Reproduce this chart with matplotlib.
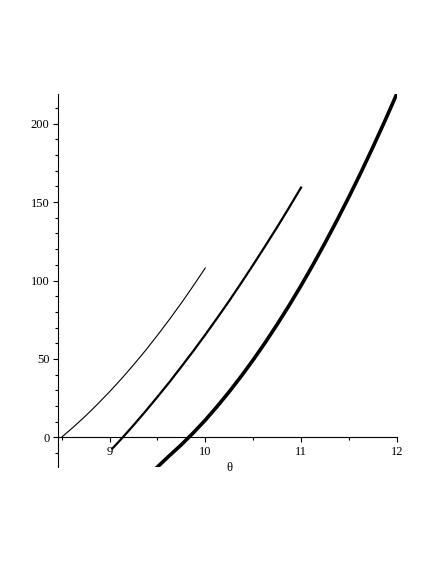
import matplotlib.pyplot as plt
from matplotlib.ticker import MultipleLocator

# curves (theta, value)
theta_a = [8.5, 8.625, 8.75, 8.875, 9.0, 9.125, 9.25, 9.375, 9.5, 9.625, 9.75, 9.875, 10.0]
val_a = [0.0, 6.6, 13.6, 21.1, 29.0, 37.3, 46.1, 55.3, 65.0, 75.1, 85.6, 96.6, 108.0]

theta_b = [9.03, 9.125, 9.25, 9.375, 9.5, 9.625, 9.75, 9.875, 10.0,
           10.125, 10.25, 10.375, 10.5, 10.625, 10.75, 10.875, 11.0]
val_b = [-7.2, -1.0, 7.6, 16.5, 25.7, 35.1, 45.0, 55.0, 65.4,
         76.1, 87.0, 98.4, 110.0, 121.9, 134.0, 146.5, 159.3]

theta_c = [9.5, 9.625, 9.75, 9.875, 10.0, 10.125, 10.25, 10.375, 10.5, 10.625, 10.75,
           10.875, 11.0, 11.125, 11.25, 11.375, 11.5, 11.625, 11.75, 11.875, 12.0]
val_c = [-19.0, -11.8, -4.8, 2.8, 10.9, 19.7, 29.0, 38.9, 49.3, 60.3, 71.9,
         84.0, 96.7, 110.0, 123.9, 138.3, 153.3, 168.8, 185.0, 201.7, 219.0]

plt.rcParams['font.family'] = ['Liberation Serif', 'DejaVu Serif']

fig = plt.figure(figsize=(4.36, 5.64), dpi=100)
ax = fig.add_axes([0.1337, 0.172, 0.910 - 0.1337, 0.8333 - 0.172])

ax.plot(theta_a, val_a, color="black", linewidth=0.8)
ax.plot(theta_b, val_b, color="black", linewidth=1.6)
ax.plot(theta_c, val_c, color="black", linewidth=2.6)

ax.set_xlim(8.465, 12.0)
ax.set_ylim(-19, 219)

# axes through the origin like the original
ax.spines["bottom"].set_position(("data", 0))
ax.spines["top"].set_visible(False)
ax.spines["right"].set_visible(False)
for s in ["bottom", "left"]:
    ax.spines[s].set_linewidth(0.8)

ax.xaxis.set_major_locator(MultipleLocator(1))
ax.xaxis.set_minor_locator(MultipleLocator(0.5))
ax.yaxis.set_major_locator(MultipleLocator(50))
ax.yaxis.set_minor_locator(MultipleLocator(10))
ax.tick_params(which="major", direction="out", length=3.5, width=0.8, labelsize=9, pad=3)
ax.tick_params(which="minor", direction="out", length=2, width=0.8)

ax.set_xlabel("θ", fontsize=9)
ax.xaxis.label.set_va("center")
ax.xaxis.set_label_coords(0.505, -0.003)

fig.savefig("out.png", dpi=100)
